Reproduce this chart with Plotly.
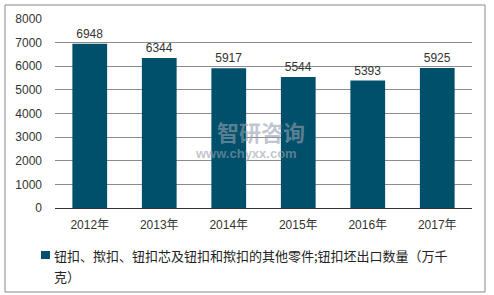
import plotly.graph_objects as go

years = ["2012年", "2013年", "2014年", "2015年", "2016年", "2017年"]
values = [6948, 6344, 5917, 5544, 5393, 5925]
series_name_lines = ["钮扣、揿扣、钮扣芯及钮扣和揿扣的其他零件;钮扣坯出口数量（万千", "克）"]
y_ticks = [0, 1000, 2000, 3000, 4000, 5000, 6000, 7000, 8000]
bar_color = "#00506B"

W, H = 494, 295
L, R, T, B = 55, 22, 19, 87
pw, ph = W - L - R, H - T - B

def px_x(x):
    return (x - L) / pw

def px_y(y):
    return (H - B - y) / ph

fig = go.Figure()
fig.add_trace(go.Bar(
    x=years, y=values, name="".join(series_name_lines),
    marker=dict(color=bar_color, line=dict(width=0)),
    text=[str(v) for v in values], textposition="outside",
    textfont=dict(family="Liberation Sans, Arial", size=12, color="#333333"),
    cliponaxis=False, showlegend=False,
))

annotations = [
    dict(xref="paper", yref="paper", x=px_x(261), y=px_y(131), text="<b>智研咨询</b>",
         showarrow=False, font=dict(family="Noto Sans CJK SC", size=22, color="rgba(150,160,175,0.6)")),
    dict(xref="paper", yref="paper", x=px_x(246), y=px_y(163), text="<b>www.chyxx.com</b>",
         showarrow=False, font=dict(family="Liberation Sans", size=13, color="rgba(150,160,175,0.6)")),
]
for i, line in enumerate(series_name_lines):
    annotations.append(dict(xref="paper", yref="paper", x=px_x(52), y=px_y(255 + 21 * i),
                            xanchor="left", yanchor="middle", text=line, showarrow=False,
                            font=dict(family="Noto Sans CJK SC, Liberation Sans", size=13, color="#222222")))

fig.update_layout(
    width=W, height=H,
    margin=dict(l=L, r=R, t=T, b=B, pad=0, autoexpand=False),
    paper_bgcolor="white", plot_bgcolor="white",
    bargap=0.5,
    font=dict(family="Liberation Sans, Arial, Noto Sans CJK SC", size=12, color="#333333"),
    xaxis=dict(showline=True, linecolor="#333333", linewidth=1, ticks="", showgrid=False,
               ticklabelstandoff=6,
               tickfont=dict(family="Liberation Sans, Noto Sans CJK SC", size=12, color="#333333")),
    yaxis=dict(range=[0, 8000], tickvals=y_ticks, showgrid=True, gridcolor="#8c8c8c",
               gridwidth=1, zeroline=False, showline=False, ticks="",
               ticklabelstandoff=12,
               tickfont=dict(family="Liberation Sans, Arial", size=12, color="#333333")),
    shapes=[
        dict(type="rect", xref="paper", yref="paper",
             x0=px_x(5), x1=px_x(485), y0=px_y(292), y1=px_y(5),
             line=dict(color="#888888", width=1), fillcolor="rgba(0,0,0,0)", layer="above"),
        dict(type="rect", xref="paper", yref="paper",
             x0=px_x(41), x1=px_x(50), y0=px_y(259), y1=px_y(251),
             line=dict(width=0), fillcolor=bar_color),
    ],
    annotations=annotations,
)

fig.write_html("out.html")
